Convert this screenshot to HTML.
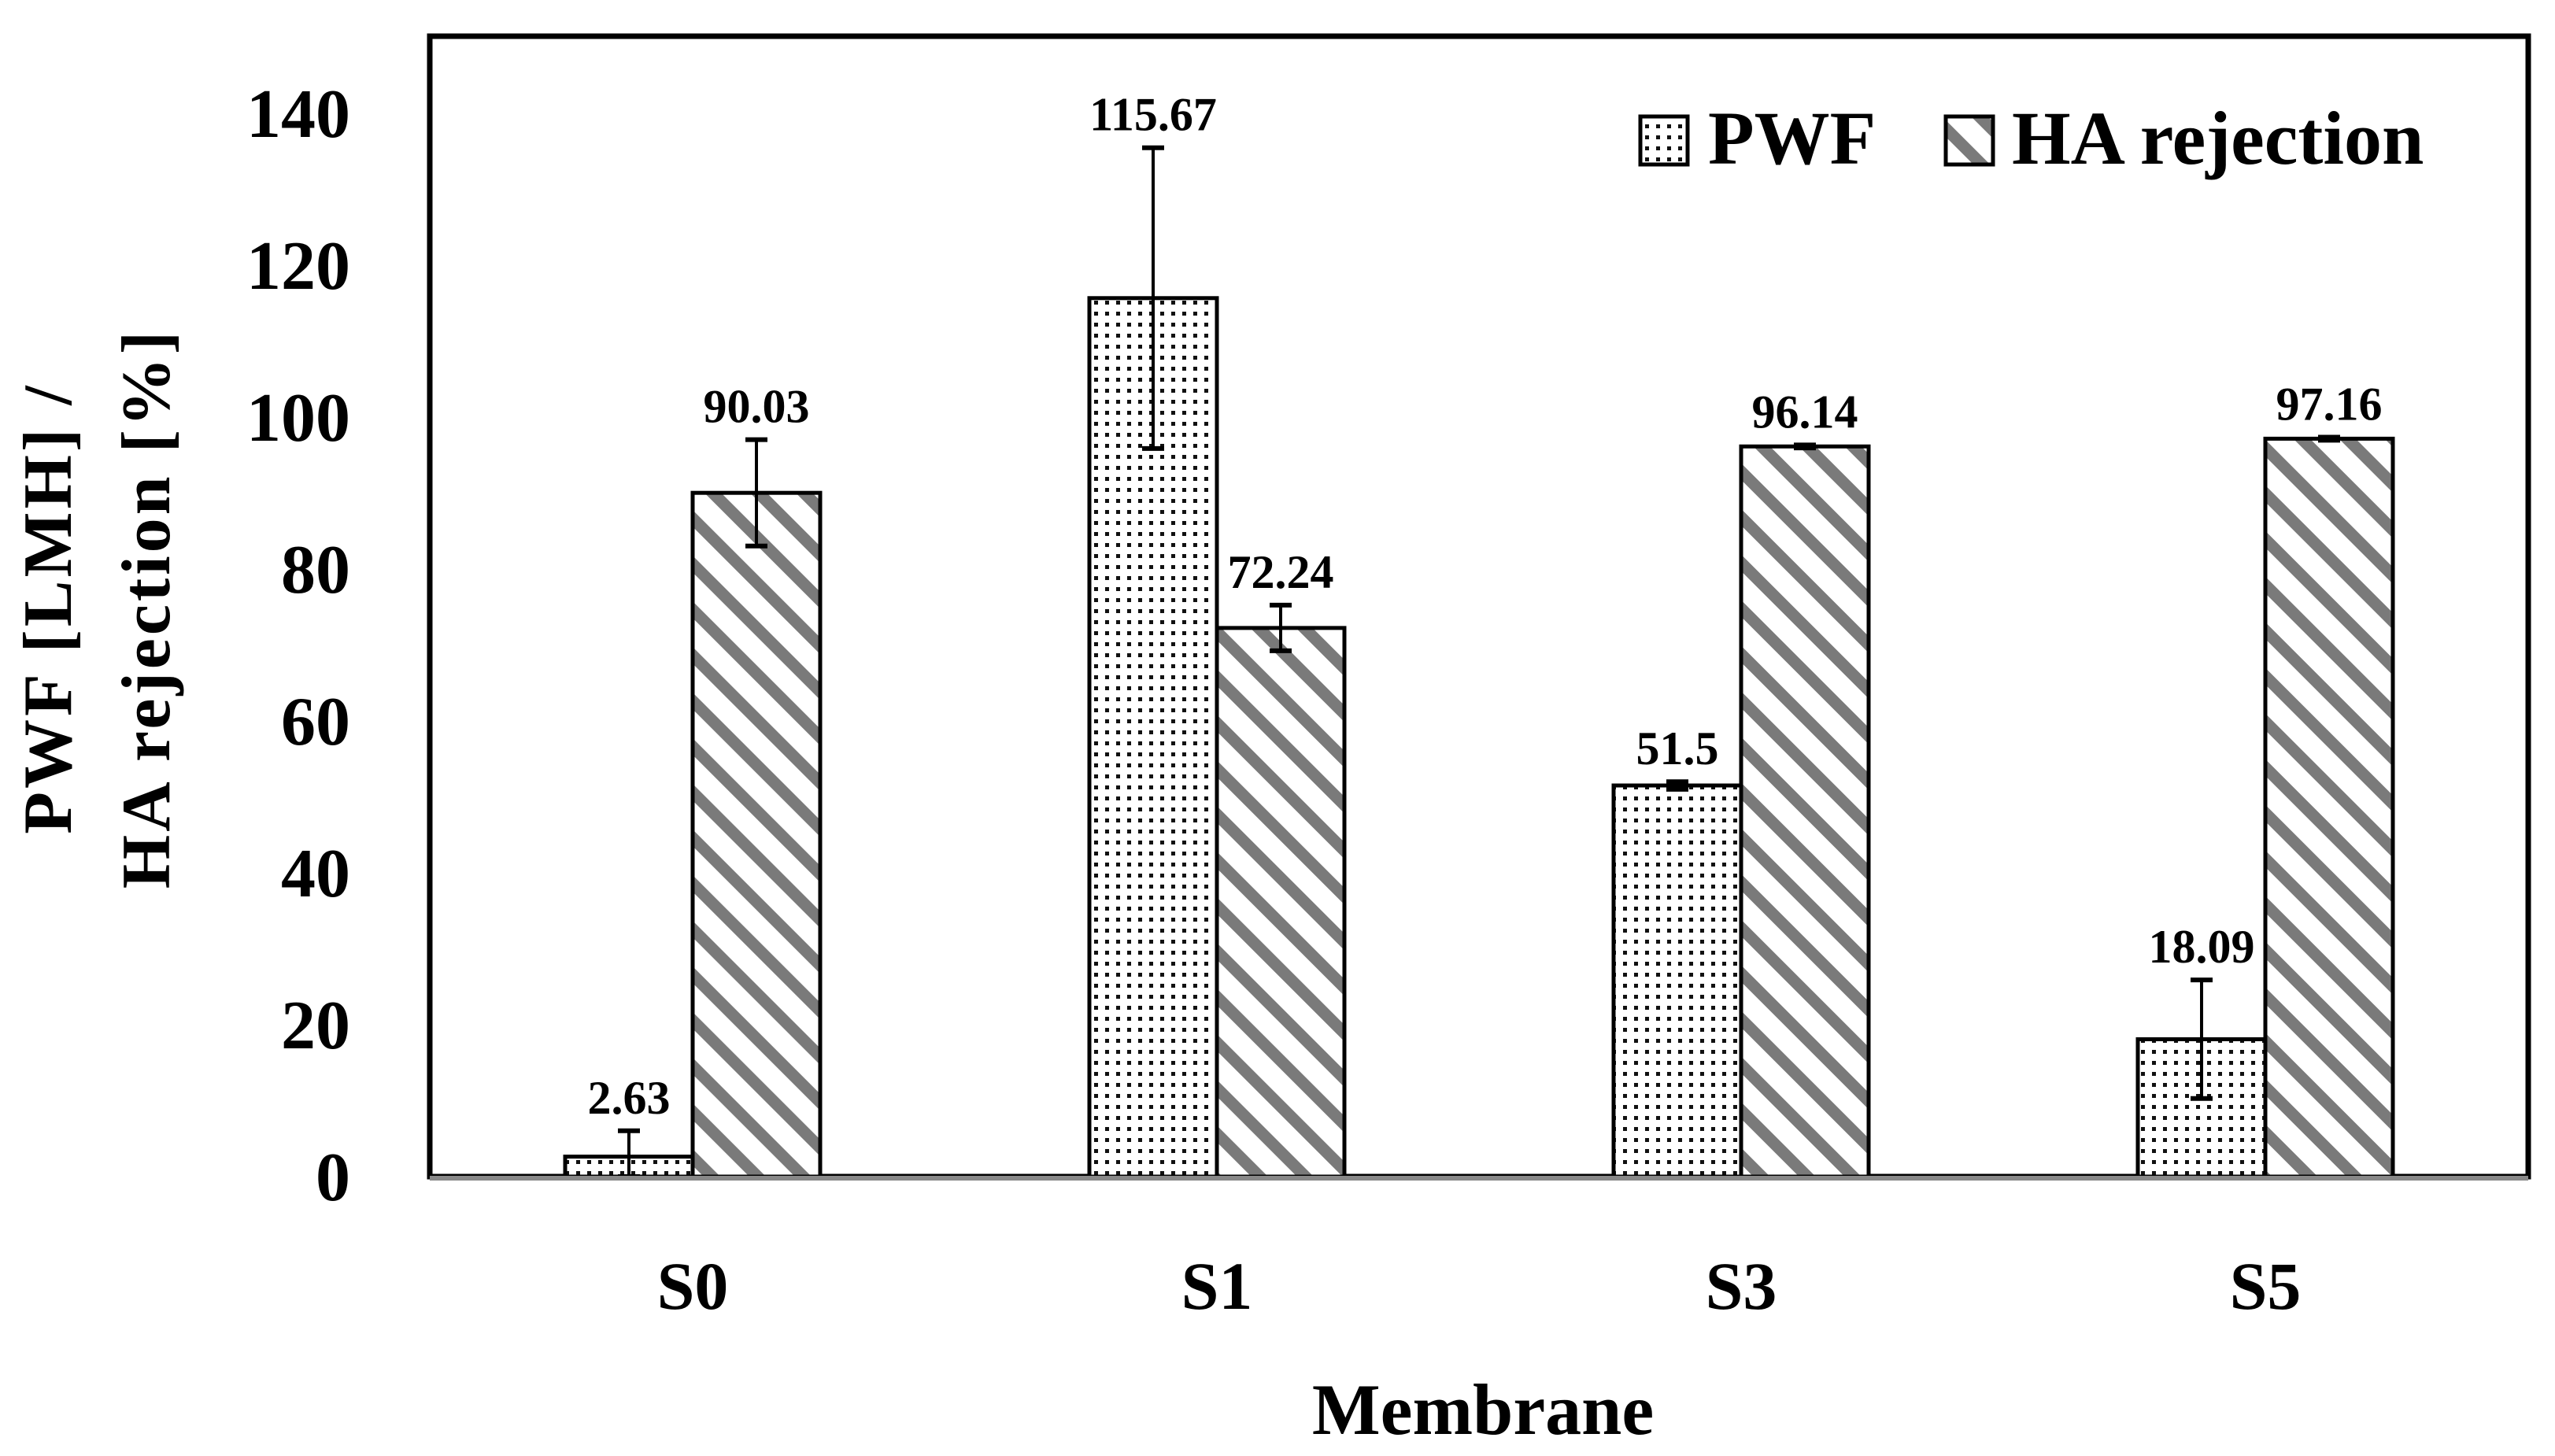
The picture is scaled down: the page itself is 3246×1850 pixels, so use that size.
<!DOCTYPE html>
<html><head><meta charset="utf-8"><style>
html,body{margin:0;padding:0;background:#fff;}
svg{display:block;font-family:"Liberation Serif",serif;}
</style></head><body>
<svg id="chart" width="3246" height="1850" viewBox="0 0 3246 1850" xmlns="http://www.w3.org/2000/svg">
<defs>
<pattern id="dots" width="14" height="14" patternUnits="userSpaceOnUse">
<rect width="14" height="14" fill="#fff"/><rect x="4" y="4" width="5" height="5" fill="#111"/>
</pattern>
<pattern id="hatch" width="41" height="41" patternUnits="userSpaceOnUse" patternTransform="rotate(45)">
<rect width="41" height="41" fill="#fff"/><rect x="0" y="0" width="41" height="15" fill="#7a7a7a"/>
</pattern>
</defs>
<rect x="546" y="46" width="2666" height="1449" fill="none" stroke="#000" stroke-width="7"/>
<g id="bars"></g>
<line x1="546" y1="1497" x2="3212" y2="1497" stroke="#888" stroke-width="6"/>
<g id="labels"></g>
<g>
<rect x="2084" y="148" width="60" height="61" fill="url(#dots)" stroke="#000" stroke-width="5"/>
<text x="2170" y="208" font-size="96" font-weight="bold">PWF</text>
<rect x="2472" y="148" width="60" height="61" fill="url(#hatch)" stroke="#000" stroke-width="5"/>
<text x="2556" y="208" font-size="96" font-weight="bold">HA rejection</text>
</g>
<text x="1884" y="1822" font-size="92" font-weight="bold" text-anchor="middle">Membrane</text>
<g transform="translate(0,773) rotate(-90)">
<text x="0" y="90" font-size="88" font-weight="bold" text-anchor="middle" letter-spacing="4">PWF [LMH] /</text>
<text x="0" y="215" font-size="88" font-weight="bold" text-anchor="middle" letter-spacing="4">HA rejection [%]</text>
</g>
</svg>
<script>
const categories = ["S0","S1","S3","S5"];
const pwf = [2.63, 115.67, 51.5, 18.09];
const pwfErr = [3.4, 19.8, 0.5, 7.8];
const ha = [90.03, 72.24, 96.14, 97.16];
const haErr = [7.0, 3.0, 0.2, 0.2];
const pwfText = ["2.63","115.67","51.5","18.09"];
const haText = ["90.03","72.24","96.14","97.16"];
const yTicks = [0,20,40,60,80,100,120,140];

const NS = "http://www.w3.org/2000/svg";
const y0 = 1495, yScale = 9.65;
function y(v){ return y0 - v*yScale; }
function xc(i){ return 880 + i*666; }
const bw = 162;
const barsG = document.getElementById('bars');
const labG = document.getElementById('labels');
function mk(tag, attrs, parent){
  const e = document.createElementNS(NS, tag);
  for (const k in attrs) e.setAttribute(k, attrs[k]);
  parent.appendChild(e); return e;
}
yTicks.forEach(t=>{
  const e = mk('text',{x:445,y:y(t)+30,'font-size':88,'font-weight':'bold','text-anchor':'end'},labG);
  
  
  e.textContent = t;
});
function series(vals, errs, texts, left, fill, name){
  vals.forEach((v,i)=>{
    const x = left ? xc(i)-bw : xc(i);
    const r = mk('rect',{x:x,y:y(v),width:bw,height:y0-y(v),fill:fill,stroke:'#000','stroke-width':5},barsG);
    
    
    const cx = x + bw/2;
    const top = v+errs[i], bot = Math.max(0, v-errs[i]);
    const g = mk('g',{stroke:'#000','stroke-width':4},barsG);
    
    
    mk('line',{x1:cx,y1:y(top),x2:cx,y2:y(bot)},g);
    mk('line',{x1:cx-14,y1:y(top),x2:cx+14,y2:y(top),'stroke-width':6},g);
    mk('line',{x1:cx-14,y1:y(bot),x2:cx+14,y2:y(bot),'stroke-width':6},g);
    const t = mk('text',{x:cx,y:y(top)-22,'font-size':60,'font-weight':'bold','text-anchor':'middle'},labG);
    
    
    t.textContent = texts[i];
  });
}
series(pwf, pwfErr, pwfText, true, 'url(#dots)', 'pwf');
series(ha, haErr, haText, false, 'url(#hatch)', 'ha');
categories.forEach((c,i)=>{
  const t = mk('text',{x:xc(i),y:1663,'font-size':86,'font-weight':'bold','text-anchor':'middle'},labG);
  
  
  t.textContent = c;
});
</script>
</body></html>
